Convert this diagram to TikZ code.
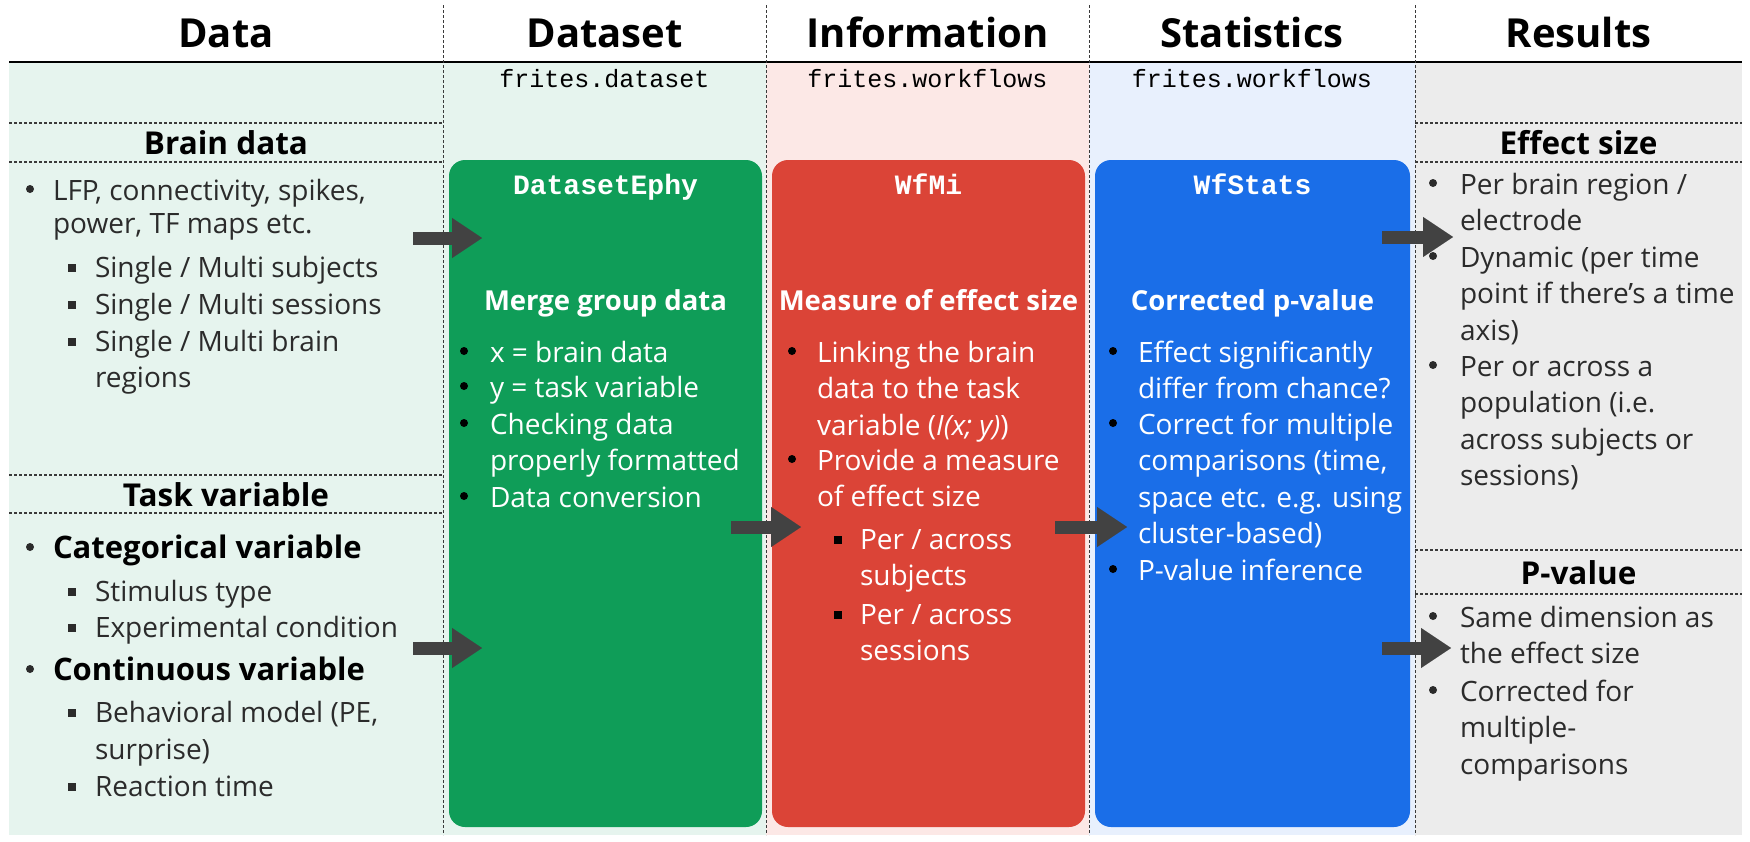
\documentclass[tikz,border=0pt]{standalone}
\usepackage{fontspec}
\setmainfont{Open Sans}
\setmonofont{Liberation Mono}
\usetikzlibrary{arrows.meta}
\definecolor{bgG}{HTML}{E6F4EE}
\definecolor{bgR}{HTML}{FCE8E6}
\definecolor{bgB}{HTML}{E8F0FD}
\definecolor{bgK}{HTML}{ECECEC}
\definecolor{cG}{HTML}{0F9D58}
\definecolor{cR}{HTML}{DB4437}
\definecolor{cB}{HTML}{1A6EE8}
\definecolor{arrowc}{HTML}{424242}
\definecolor{bodyc}{HTML}{2B2B2B}
\definecolor{dashc}{HTML}{3A3A3A}
\tikzset{
  every node/.style={inner sep=0pt, outer sep=0pt},
  coltitle/.style={anchor=base, font=\fontsize{40}{42}\selectfont\bfseries},
  sechead/.style={anchor=base, font=\fontsize{31.5}{33}\selectfont\bfseries},
  modname/.style={anchor=base, font=\fontsize{25}{27}\selectfont\ttfamily},
  boxtitle/.style={anchor=base, text=white, font=\fontsize{28}{30}\selectfont\ttfamily\bfseries},
  boxhead/.style={anchor=base, text=white, font=\fontsize{27.5}{30}\selectfont\bfseries},
  bigbox/.style={draw=none, rounded corners=16pt, minimum width=313pt, minimum height=667pt},
  txt/.style={anchor=base west, font=\fontsize{28}{#1}\selectfont},
  txt/.default=36.5,
  bul/.style={anchor=base west, font=\fontsize{28}{30}\selectfont},
  divider/.style={dashc, line width=1pt, dash pattern=on 3pt off 2pt},
  hsep/.style={dashc, line width=1.2pt, dash pattern=on 3pt off 2pt},
  blockarrow/.style={arrowc, line width=13pt, -{Triangle[width=40pt,length=30pt,line width=0.1pt]}}
}
\newcommand{\sqb}{\rule[5pt]{8pt}{8pt}}
\newcommand{\dotb}{\raisebox{7pt}{\tikz\fill (0,0) circle (4pt);}}
\newcommand{\bigb}[1]{{\fontsize{31}{36}\selectfont\bfseries\color{black}#1}}
% dark items in side columns
\newcommand{\bitem}[6][36.5]{%
  \node[bul, text=bodyc] (#2b) at (#3,#5) {\dotb};
  \node[txt=#1, text=bodyc] (#2) at (#4,#5) {\parbox[t]{420pt}{\raggedright\leavevmode #6}};}
\newcommand{\sitem}[6][36.5]{%
  \node[bul, text=bodyc] (#2b) at (#3,#5) {\sqb};
  \node[txt=#1, text=bodyc] (#2) at (#4,#5) {\parbox[t]{420pt}{\raggedright\leavevmode #6}};}
% white items in coloured boxes
\newcommand{\witem}[6][36.5]{%
  \node[bul, text=black] (#2b) at (#3,#5) {\dotb};
  \node[txt=#1, text=white] (#2) at (#4,#5) {\parbox[t]{420pt}{\raggedright\leavevmode #6}};}
\newcommand{\wsitem}[6][36.5]{%
  \node[bul, text=black] (#2b) at (#3,#5) {\sqb};
  \node[txt=#1, text=white] (#2) at (#4,#5) {\parbox[t]{420pt}{\raggedright\leavevmode #6}};}
\begin{document}
\begin{tikzpicture}[x=1pt,y=-1pt]
\useasboundingbox (0,0) rectangle (1750,841);
\fill[white] (0,0) rectangle (1750,841);
% column backgrounds
\fill[bgG] (9,62) rectangle (766,835);
\fill[bgR] (766,62) rectangle (1089,835);
\fill[bgB] (1089,62) rectangle (1415,835);
\fill[bgK] (1415,62) rectangle (1742,835);
% header rule and dividers
\draw[line width=2.5pt] (9,62) -- (1742,62);
\foreach \x in {443,766,1089,1415} \draw[divider] (\x,5) -- (\x,835);
% section separators
\draw[hsep] (9,123) -- (443,123);
\draw[hsep] (9,162) -- (443,162);
\draw[hsep] (9,475) -- (443,475);
\draw[hsep] (9,513) -- (443,513);
\draw[hsep] (1415,123) -- (1742,123);
\draw[hsep] (1415,162) -- (1742,162);
\draw[hsep] (1415,550) -- (1742,550);
\draw[hsep] (1415,594) -- (1742,594);
% column titles
\node[coltitle] (tData) at (226,47) {Data};
\node[coltitle] (tDataset) at (604.5,47) {Dataset};
\node[coltitle] (tInfo) at (927.5,47) {Information};
\node[coltitle] (tStats) at (1252,47) {Statistics};
\node[coltitle] (tRes) at (1578.5,47) {Results};
% module names
\node[modname] (mDataset) at (604.5,87) {frites.dataset};
\node[modname] (mInfo) at (927.5,87) {frites.workflows};
\node[modname] (mStats) at (1252,87) {frites.workflows};
% section headings
\node[sechead] (hBrain) at (226,154) {Brain data};
\node[sechead] (hTask) at (226,506) {Task variable};
\node[sechead] (hEff) at (1578.5,154) {Effect size};
\node[sechead] (hPv) at (1578.5,584) {P-value};
% big boxes
\node[bigbox, fill=cG] (boxG) at (605.5,493.5) {};
\node[bigbox, fill=cR] (boxR) at (928.5,493.5) {};
\node[bigbox, minimum width=315pt, fill=cB] (boxB) at (1252.5,493.5) {};
\node[boxtitle] (ttG) at (605.5,194) {DatasetEphy};
\node[boxtitle] (ttR) at (928.5,194) {WfMi};
\node[boxtitle] (ttB) at (1252.5,194) {WfStats};
\node[boxhead] (hdG) at (605.5,310) {Merge group data};
\node[boxhead] (hdR) at (928.5,310) {Measure of effect size};
\node[boxhead] (hdB) at (1252.5,310) {Corrected p-value};
% Data column items
\bitem[33]{lfp}{26}{53}{200}{LFP, connectivity, spikes,\\power, TF maps etc.}
\sitem{sa}{68}{95}{277}{Single / Multi subjects}
\sitem{sb}{68}{95}{314}{Single / Multi sessions}
\sitem[36]{sc}{68}{95}{351}{Single / Multi brain\\regions}
\bitem{cat}{26}{53}{558}{\bigb{Categorical variable}}
\sitem{stim}{68}{95}{601}{Stimulus type}
\sitem{expc}{68}{95}{637}{Experimental condition}
\bitem{cont}{26}{53}{680}{\bigb{Continuous variable}}
\sitem[37]{behm}{68}{95}{722}{Behavioral model (PE,\\surprise)}
\sitem{react}{68}{95}{796}{Reaction time}
% green box items
\witem{ga}{460}{490}{362}{x = brain data}
\witem{gb}{460}{490}{397}{y = task variable}
\witem{gc}{460}{490}{434}{Checking data\\properly formatted}
\witem{gd}{460}{490}{507}{Data conversion}
% red box items
\witem{ra}{788}{817}{362}{Linking the brain\\data to the task\\variable (\textit{I(x; y)})}
\witem{rb}{788}{817}{470}{Provide a measure\\of effect size}
\wsitem{rc}{834}{860}{549}{Per / across\\subjects}
\wsitem{rd}{834}{860}{624}{Per / across\\sessions}
% blue box items
\witem{ba}{1109}{1138}{362}{Effect significantly\\differ from chance?}
\witem{bb}{1109}{1138}{434}{Correct for multiple\\comparisons (time,\\space etc. e.g. using\\cluster-based)}
\witem{bc}{1109}{1138}{580}{P-value inference}
% results items
\bitem{ea}{1429}{1460}{194}{Per brain region /\\electrode}
\bitem{eb}{1429}{1460}{267}{Dynamic (per time\\point if there's a time\\axis)}
\bitem{ec}{1429}{1460}{376}{Per or across a\\population (i.e.\\across subjects or\\sessions)}
\bitem{pa}{1429}{1460}{627}{Same dimension as\\the effect size}
\bitem{pb}{1429}{1460}{701}{Corrected for\\multiple-\\comparisons}
% arrows
\coordinate (a1s) at (413,238); \coordinate (a1e) at (482,238);
\coordinate (a2s) at (413,648); \coordinate (a2e) at (482,648);
\coordinate (a3s) at (731,527); \coordinate (a3e) at (801,527);
\coordinate (a4s) at (1055,527); \coordinate (a4e) at (1127,527);
\coordinate (a5s) at (1382,237); \coordinate (a5e) at (1453,237);
\coordinate (a6s) at (1382,648); \coordinate (a6e) at (1451,648);
\draw[blockarrow] (a1s) -- (a1e);
\draw[blockarrow] (a2s) -- (a2e);
\draw[blockarrow] (a3s) -- (a3e);
\draw[blockarrow] (a4s) -- (a4e);
\draw[blockarrow] (a5s) -- (a5e);
\draw[blockarrow] (a6s) -- (a6e);
\end{tikzpicture}
\end{document}
